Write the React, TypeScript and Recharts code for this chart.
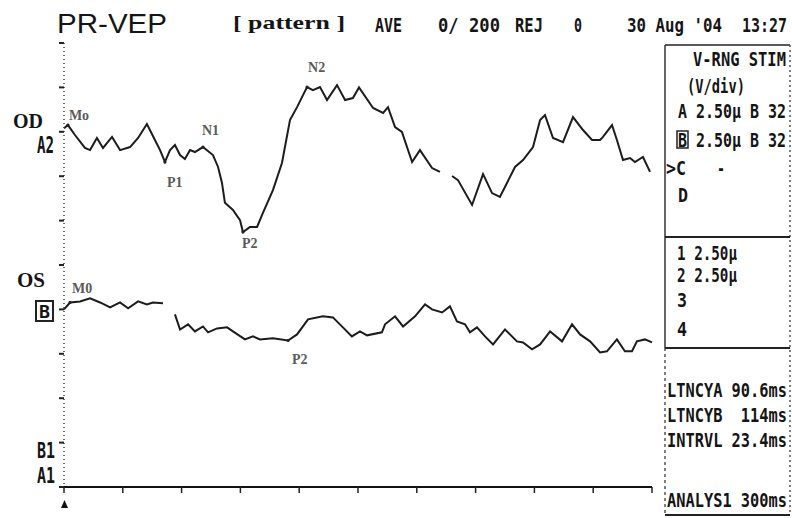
import React from 'react';
import { LineChart, Line, XAxis, YAxis, ReferenceDot } from 'recharts';

// OD (right eye) trace, ms / µV relative to the A2 baseline
const OD_MS = [
  0, 2, 5.6, 10.7, 13.3, 16.8, 19.9, 24.5, 28.6, 33.7, 37.8, 42.3, 46.4, 49, 51.5, 54.1, 56.6, 59.2, 61.7, 64.3,
  66.8, 70.9, 76, 78.6, 80.6, 82.1, 86.2, 89.8, 91.3, 94.9, 98.5, 101.5, 106.6, 111.2, 115.3, 118.9, 124, 127, 130.6,
  134.2, 139.3, 143.4, 147.4, 150.5, 157.7, 162.8, 165.3, 168.9, 172.4, 177.6, 181.6, 187.8, 191.8, 195, 198, 201,
  208.2, 213.8, 218.4, 222.4, 230.1, 234.2, 239.3, 242.9, 245.4, 249.5, 254.6, 259.7, 264.8, 269.4, 273.5, 275,
  279.6, 282.1, 285.2, 288.8, 291.3, 295.4, 299,
];
const OD_UV = [
  0.1, 0.28, -0.28, -1.01, -1.13, -0.45, -1.01, -0.39, -1.13, -0.96, -0.45, 0.34, -0.56, -1.13, -1.8, -1.13, -0.84,
  -1.41, -1.63, -1.13, -1.24, -0.96, -1.41, -2.08, -2.98, -4.1, -4.5, -5.07, -5.74, -5.46, -5.46, -4.67, -3.38,
  -1.86, 0.56, 1.29, 2.42, 2.25, 2.42, 1.69, 2.53, 1.69, 1.8, 2.4, 1.24, 0.96, 1.29, 0.17, -0.11, -1.8, -1.13,
  -2.14, -2.36, null, -2.59, -2.82, -4.22, -2.48, -3.55, -3.77, -2.08, -1.69, -0.96, 0.56, 0.84, -0.45, -0.68,
  0.73, 0, -0.56, -0.56, -0.39, 0.28, -0.56, -1.69, -1.58, -1.8, -1.52, -2.36,
];

// OS (left eye) trace
const OS_MS = [
  0, 3.1, 8.2, 13.3, 18.4, 23.5, 28.6, 32.7, 37.8, 42.3, 45.4, 50.5, 53.5, 56.6, 59.2, 63.3, 66.8, 70.9, 73.5, 78.1,
  83.2, 86.2, 92.3, 96.4, 100, 106.6, 114.3, 118.9, 124.5, 132.1, 137.2, 142.3, 146.9, 151, 154.6, 162.2, 163.8,
  168.9, 173, 179.1, 184.2, 187.8, 192.9, 196.9, 200.5, 204.6, 207.1, 210.7, 214.8, 218.9, 225, 231.1, 234.2, 238.8,
  242.9, 248, 254.1, 259.2, 263.3, 268.4, 273.5, 277, 282.1, 286.2, 289.8, 292.3, 296.4, 300,
];
const OS_UV = [
  0, 0.39, 0.45, 0.62, 0.39, 0.11, 0.39, 0.06, 0.45, 0.28, 0.39, 0.34, null, -0.28, -1.13, -0.84, -1.24, -0.96,
  -1.29, -1.07, -1.01, -1.24, -1.69, -1.52, -1.69, -1.63, -1.75, -1.41, -0.56, -0.39, -0.45, -1.01, -1.52, -1.24,
  -1.46, -1.29, -0.84, -0.39, -0.96, -0.39, 0.28, 0, -0.17, 0.17, -0.68, -0.84, -1.29, -1.01, -1.52, -1.97, -1.13,
  -1.8, -1.86, -2.25, -1.97, -1.24, -1.8, -0.84, -1.41, -1.8, -2.42, -2.36, -1.69, -2.36, -2.36, -1.8, -1.69, -1.86,
];

const OD_PEAKS = ['Mo', 'P1', 'N1', 'P2', 'N2'];
const OD_PEAK_MS = [2, 51.5, 70.9, 91.3, 124];
const OS_PEAKS = ['M0', 'P2'];
const OS_PEAK_MS = [3.1, 114.3];

// 10 divisions of 30 ms, 10 divisions of 2.5 µV
const X_TICKS = [0, 30, 60, 90, 120, 150, 180, 210, 240, 270, 300];
const Y_TICKS = [0, 2.5, 5, 7.5, 10, 12.5, 15, 17.5, 20, 22.5, 25];

const OD_BASE = 20.1;
const OS_BASE = 10;

const MONO = "'DejaVu Sans Mono', 'Liberation Mono', monospace";
const SERIF = "'Liberation Serif', 'DejaVu Serif', serif";
const SANS = "'Liberation Sans', Arial, sans-serif";

const toRows = (ms: number[], uv: (number | null)[], base: number) =>
  ms.map((t, i) => ({ t, v: uv[i] == null ? null : (uv[i] as number) + base }));

const odData = toRows(OD_MS, OD_UV, OD_BASE);
const osData = toRows(OS_MS, OS_UV, OS_BASE);

// label placement relative to the peak point
const LABEL_OFFSET: Record<string, [number, number]> = {
  'OD-Mo': [1, -5],
  'OD-P1': [2, 25],
  'OD-N1': [-1, -12],
  'OD-P2': [-1, 16],
  'OD-N2': [1, -15],
  'OS-M0': [2, -9],
  'OS-P2': [4, 24],
};

// printer-style condensed mono text: squeeze a monospace font to the given width
function M({ x, y, w, size = 20, children }: any) {
  const s = String(children);
  const sx = w / (s.length * 0.602 * size);
  return (
    <text
      transform={`translate(${x},${y}) scale(${sx.toFixed(3)},1)`}
      fontFamily={MONO}
      fontSize={size}
      fontWeight={700}
      fill="#151515"
      style={{ whiteSpace: 'pre' }}
    >
      {s}
    </text>
  );
}

function T({ x, y, w, size = 20, font = SERIF, weight = 700, children }: any) {
  return (
    <text x={x} y={y} fontFamily={font} fontSize={size} fontWeight={weight} fill="#151515" textLength={w} lengthAdjust="spacingAndGlyphs">
      {children}
    </text>
  );
}

const noLabel = () => <g />;

function peakDots(prefix: string, names: string[], ms: number[], times: number[], rows: { t: number; v: number | null }[]) {
  return names.map((name, i) => {
    const row = rows[times.indexOf(ms[i])];
    const [dx, dy] = LABEL_OFFSET[`${prefix}-${name}`];
    return (
      <ReferenceDot
        key={`${prefix}-${name}`}
        x={ms[i]}
        y={row.v as number}
        r={1.6}
        fill="#222"
        stroke="none"
        label={(props: any) => {
          const vb = props.viewBox || {};
          const cx = (vb.x ?? 0) + (vb.width ?? 0) / 2;
          const cy = (vb.y ?? 0) + (vb.height ?? 0) / 2;
          return (
            <text x={cx + dx} y={cy + dy} fontFamily={SERIF} fontWeight={700} fontSize={14} fill="#5a5a5a">
              {name}
            </text>
          );
        }}
      />
    );
  });
}

export default function App() {
  return (
    <div style={{ position: 'fixed', left: 0, top: 0, width: 792, height: 518, background: '#fff', overflow: 'hidden' }}>
      <div style={{ position: 'absolute', left: 0, top: 0 }}>
        <LineChart width={792} height={518} margin={{ top: 43, right: 140, bottom: 30, left: 63 }}>
          <XAxis
            type="number"
            dataKey="t"
            domain={[0, 300]}
            ticks={X_TICKS}
            interval={0}
            tick={noLabel}
            tickSize={6}
            height={1}
            axisLine={{ stroke: '#111', strokeWidth: 2.2 }}
            tickLine={{ stroke: '#222', strokeWidth: 1.5 }}
          />
          <YAxis
            type="number"
            domain={[0, 25]}
            ticks={Y_TICKS}
            interval={0}
            tick={noLabel}
            tickSize={5}
            width={1}
            axisLine={{ stroke: '#444', strokeWidth: 1.5, strokeDasharray: '1 3' }}
            tickLine={{ stroke: '#222', strokeWidth: 2 }}
          />
          <Line
            data={odData}
            dataKey="v"
            type="linear"
            stroke="#1c1c1c"
            strokeWidth={2}
            dot={false}
            activeDot={false}
            connectNulls={false}
            isAnimationActive={false}
          />
          <Line
            data={osData}
            dataKey="v"
            type="linear"
            stroke="#1c1c1c"
            strokeWidth={2}
            dot={false}
            activeDot={false}
            connectNulls={false}
            isAnimationActive={false}
          />
          {peakDots('OD', OD_PEAKS, OD_PEAK_MS, OD_MS, odData)}
          {peakDots('OS', OS_PEAKS, OS_PEAK_MS, OS_MS, osData)}
        </LineChart>
      </div>

      <svg width={792} height={518} style={{ position: 'absolute', left: 0, top: 0, pointerEvents: 'none' }}>
        {/* header */}
        <T x={57} y={33} w={110} size={27} font={SANS} weight={400}>PR-VEP</T>
        <T x={233} y={29} w={112} size={19}>[ pattern ]</T>
        <M x={375} y={32} w={27}>AVE</M>
        <M x={438} y={32} w={62}>0/ 200</M>
        <M x={515} y={32} w={28}>REJ</M>
        <M x={574} y={32} w={8}>0</M>
        <M x={627} y={32} w={95}>30 Aug '04</M>
        <M x={742} y={32} w={45}>13:27</M>

        {/* channel labels */}
        <T x={13} y={128} w={30} size={21}>OD</T>
        <M x={37} y={153} w={17} size={23}>A2</M>
        <T x={17} y={287} w={28} size={20}>OS</T>
        <rect x={36} y={301} width={17} height={20} fill="none" stroke="#222" strokeWidth={2} />
        <M x={39} y={318} w={11} size={18}>B</M>
        <M x={37} y={458} w={18} size={22}>B1</M>
        <M x={37} y={483} w={18} size={22}>A1</M>
        <polygon points="61,508 68,508 64.5,500" fill="#111" />

        {/* settings panel */}
        <line x1={665} y1={45} x2={790} y2={45} stroke="#222" strokeWidth={1.5} />
        <line x1={665} y1={45} x2={665} y2={348} stroke="#333" strokeWidth={1.5} />
        <line x1={665} y1={348} x2={665} y2={515} stroke="#555" strokeWidth={1.5} strokeDasharray="3 3" />
        <line x1={790} y1={45} x2={790} y2={515} stroke="#555" strokeWidth={1.5} strokeDasharray="2 3" />
        <line x1={665} y1={237} x2={790} y2={237} stroke="#222" strokeWidth={2.2} />
        <line x1={665} y1={348} x2={790} y2={348} stroke="#222" strokeWidth={2.2} />
        <line x1={665} y1={515} x2={790} y2={515} stroke="#222" strokeWidth={2.2} />

        <M x={693} y={66} w={93}>V-RNG STIM</M>
        <M x={687} y={93} w={58}>(V/div)</M>
        <M x={678} y={118} w={108}>A 2.50µ B 32</M>
        <rect x={677} y={131} width={11} height={17} fill="none" stroke="#222" strokeWidth={1.5} />
        <M x={678} y={147} w={108}>B 2.50µ B 32</M>
        <M x={666} y={175} w={20}>&gt;C</M>
        <M x={717} y={175} w={8}>-</M>
        <M x={678} y={202} w={10}>D</M>

        <M x={677} y={260} w={60}>1 2.50µ</M>
        <M x={677} y={282} w={60}>2 2.50µ</M>
        <M x={677} y={307} w={10}>3</M>
        <M x={677} y={336} w={10}>4</M>

        <M x={667} y={397} w={120}>LTNCYA 90.6ms</M>
        <M x={667} y={422} w={120}>LTNCYB  114ms</M>
        <M x={667} y={447} w={120}>INTRVL 23.4ms</M>
        <M x={667} y={507} w={120}>ANALYS1 300ms</M>
      </svg>
    </div>
  );
}
